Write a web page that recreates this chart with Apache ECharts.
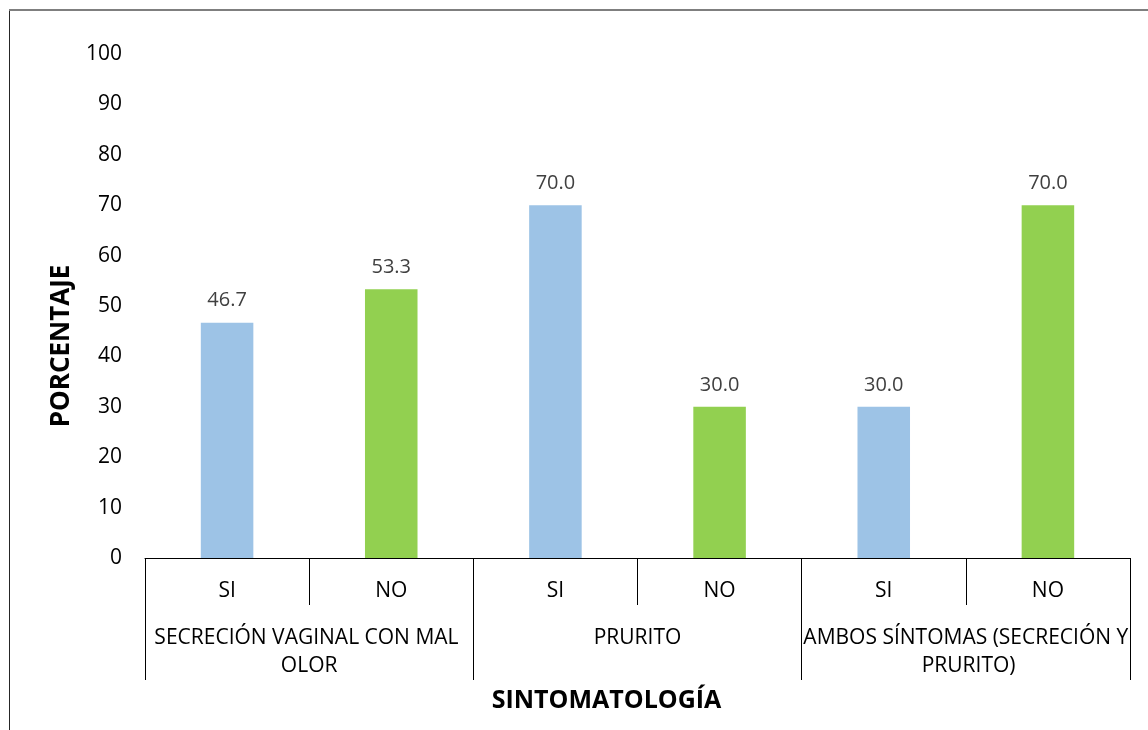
<!DOCTYPE html>
<html>
<head>
<meta charset="utf-8">
<script src="https://cdn.jsdelivr.net/npm/echarts@6/dist/echarts.min.js"></script>
<style>
  html, body { margin: 0; padding: 0; background: #fff; }
  #chart { width: 1148px; height: 730px; }
</style>
</head>
<body>
<div id="chart"></div>
<script>
// Answers (SI / NO) for each symptom group, in percent
const answers = ['SI', 'NO', 'SI', 'NO', 'SI', 'NO'];
const groups = ['SECRECIÓN VAGINAL CON MAL OLOR', 'PRURITO', 'AMBOS SÍNTOMAS (SECRECIÓN Y PRURITO)'];
const percentages = [46.7, 53.3, 70.0, 30.0, 30.0, 70.0];
const answerColors = { SI: '#9DC3E6', NO: '#92D050' };

const FONT = '"Open Sans", "Noto Sans", sans-serif';

const chart = echarts.init(document.getElementById('chart'), null, { renderer: 'canvas' });

chart.setOption({
  animation: false,
  backgroundColor: '#ffffff',
  textStyle: { fontFamily: FONT },
  grid: { left: 145, right: 18, top: 54, bottom: 172, containLabel: false },
  graphic: [
    { type: 'line', shape: { x1: 9.5, y1: 10, x2: 9.5, y2: 730 }, style: { stroke: '#262626', lineWidth: 1 } },
    { type: 'line', shape: { x1: 9, y1: 10, x2: 1148, y2: 10 }, style: { stroke: '#7f7f7f', lineWidth: 2 } }
  ],
  xAxis: [
    {
      type: 'category',
      data: answers,
      position: 'bottom',
      axisLine: { show: true, lineStyle: { color: '#000', width: 1 } },
      axisTick: { show: true, interval: 0, alignWithLabel: false, length: 47, lineStyle: { color: '#000' } },
      axisLabel: { interval: 0, color: '#000', fontSize: 21, fontFamily: FONT, margin: 23 },
      splitLine: { show: false }
    },
    {
      type: 'category',
      data: groups,
      position: 'bottom',
      offset: 0,
      axisLine: { show: false },
      axisTick: { show: true, interval: 0, alignWithLabel: false, length: 122, lineStyle: { color: '#000' } },
      axisLabel: {
        interval: 0, color: '#000', fontSize: 21, fontFamily: FONT, margin: 66,
        width: 350, overflow: 'break', lineHeight: 28, align: 'center'
      },
      splitLine: { show: false },
      name: 'SINTOMATOLOGÍA',
      nameLocation: 'middle',
      nameGap: 130,
      nameTextStyle: { color: '#000', fontSize: 25, fontWeight: 'bold', fontFamily: FONT, padding: [0, 62, 0, 0] }
    }
  ],
  yAxis: {
    type: 'value',
    min: 0,
    max: 100,
    interval: 10,
    axisLine: { show: false },
    axisTick: { show: false },
    splitLine: { show: false },
    axisLabel: { color: '#000', fontSize: 21, fontFamily: FONT, margin: 23 },
    name: 'PORCENTAJE',
    nameLocation: 'middle',
    nameGap: 61,
    nameRotate: 90,
    nameTextStyle: { color: '#000', fontSize: 26, fontWeight: 'bold', fontFamily: FONT, padding: [0, 80, 0, 0] }
  },
  series: [
    {
      type: 'bar',
      xAxisIndex: 0,
      barWidth: '32%',
      data: percentages.map((v, i) => ({ value: v, itemStyle: { color: answerColors[answers[i]] } })),
      label: {
        show: true,
        position: 'top',
        distance: 12,
        color: '#404040',
        fontSize: 20,
        fontFamily: FONT,
        formatter: p => p.value.toFixed(1)
      }
    }
  ]
});
</script>
</body>
</html>
